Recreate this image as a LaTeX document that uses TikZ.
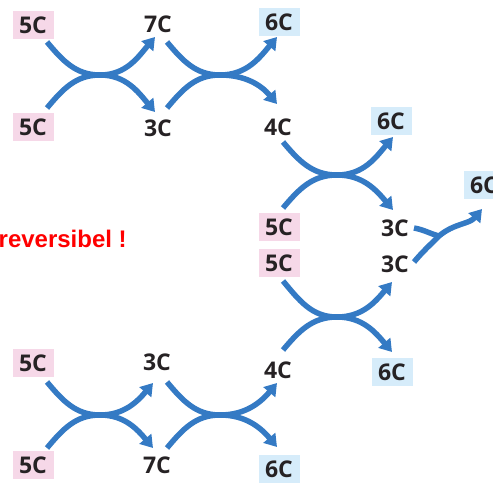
\documentclass[tikz,border=0pt]{standalone}
\usepackage{fontspec}
\setmainfont{Open Sans}
\newfontfamily\redfont{Liberation Sans}
\usetikzlibrary{arrows.meta,calc}
\definecolor{arrowblue}{RGB}{52,122,196}
\definecolor{pinkbox}{RGB}{246,216,232}
\definecolor{bluebox}{RGB}{214,236,250}
\definecolor{labelgray}{RGB}{38,34,36}
\definecolor{alertred}{RGB}{255,0,0}
\tikzset{
  lbl/.style={font=\fontsize{23}{23}\selectfont\bfseries, text=labelgray, minimum width=41pt, minimum height=28pt, inner sep=0pt},
  pinklbl/.style={lbl, fill=pinkbox},
  bluelbl/.style={lbl, fill=bluebox},
  flow/.style={draw=arrowblue, line width=5.5pt, -{Triangle[length=12pt,width=15pt]}},
  flowline/.style={draw=arrowblue, line width=5.5pt}
}
\begin{document}
\begin{tikzpicture}[x=1pt,y=1pt]
\useasboundingbox (0,0) rectangle (493,-487);
% labels
\node[pinklbl] (A1) at (33,-25) {5C};
\node[lbl] (A2) at (158,-24) {7C};
\node[bluelbl] (A3) at (279,-22) {6C};
\node[pinklbl] (B1) at (33,-127) {5C};
\node[lbl] (B2) at (158,-128) {3C};
\node[lbl] (B3) at (278,-127) {4C};
\node[bluelbl] (C1) at (391,-121) {6C};
\node[pinklbl] (D1) at (279,-227) {5C};
\node[lbl] (D2) at (395,-228) {3C};
\node[bluelbl] (E1) at (484,-185) {6C};
\node[pinklbl] (F1) at (279,-263) {5C};
\node[lbl] (F2) at (395,-264) {3C};
\node[pinklbl] (G1) at (33,-363) {5C};
\node[lbl] (G2) at (157,-362) {3C};
\node[lbl] (G3) at (278,-370) {4C};
\node[bluelbl] (G4) at (392,-372) {6C};
\node[pinklbl] (H1) at (33,-465) {5C};
\node[lbl] (H2) at (157,-465) {7C};
\node[bluelbl] (H3) at (279,-469) {6C};
\node[anchor=base west, inner sep=0pt, text=alertred, font=\redfont\fontsize{24}{24}\selectfont\bfseries] (warn) at (-1.5,-247) {reversibel !};
% meeting points
\coordinate (m1) at (100,-75);
\coordinate (m2) at (220,-75);
\coordinate (m3) at (337,-175);
\coordinate (m4) at (337,-317);
\coordinate (m5) at (100,-415);
\coordinate (m6) at (220,-415);
\coordinate (j) at (439,-236);
% crossing 1
\draw[flow] ($(A1)+(14,-17)$) to[out=-50,in=180] (m1) to[out=0,in=-130] ($(A2)+(-3,-13)$);
\draw[flow] ($(B1)+(14,19)$) to[out=50,in=180] (m1) to[out=0,in=130] ($(B2)+(-3,16)$);
% crossing 2
\draw[flow] ($(A2)+(9,-18)$) to[out=-50,in=180] (m2) to[out=0,in=-130] ($(A3)+(-2,-15)$);
\draw[flow] ($(B2)+(9,20)$) to[out=50,in=180] (m2) to[out=0,in=130] ($(B3)+(-1,23)$);
% crossing 3
\draw[flow] ($(B3)+(5,-15)$) to[out=-50,in=180] (m3) to[out=0,in=-130] ($(C1)+(2,-16)$);
\draw[flow] ($(D1)+(4,19)$) to[out=50,in=180] (m3) to[out=0,in=130] ($(D2)+(-2,18)$);
% merge
\draw[flowline] ($(D2)+(19,0)$) to[out=-10,in=165] (j);
\draw[flow] ($(F2)+(19,2)$) to[out=50,in=-135] (j) to[out=40,in=-130] ($(E1)+(-2,-24)$);
% crossing 4
\draw[flow] ($(F1)+(4,-18)$) to[out=-50,in=180] (m4) to[out=0,in=-130] ($(F2)+(-3,-18)$);
\draw[flow] ($(G3)+(5,20)$) to[out=50,in=180] (m4) to[out=0,in=130] ($(G4)+(0,20)$);
% crossing 5
\draw[flow] ($(G1)+(14,-19)$) to[out=-50,in=180] (m5) to[out=0,in=-130] ($(G2)+(-4,-21)$);
\draw[flow] ($(H1)+(14,17)$) to[out=50,in=180] (m5) to[out=0,in=130] ($(H2)+(-4,17)$);
% crossing 6
\draw[flow] ($(G2)+(10,-20)$) to[out=-50,in=180] (m6) to[out=0,in=-130] ($(G3)+(-1,-13)$);
\draw[flow] ($(H2)+(10,17)$) to[out=50,in=180] (m6) to[out=0,in=130] ($(H3)+(-2,22)$);
\end{tikzpicture}
\end{document}
